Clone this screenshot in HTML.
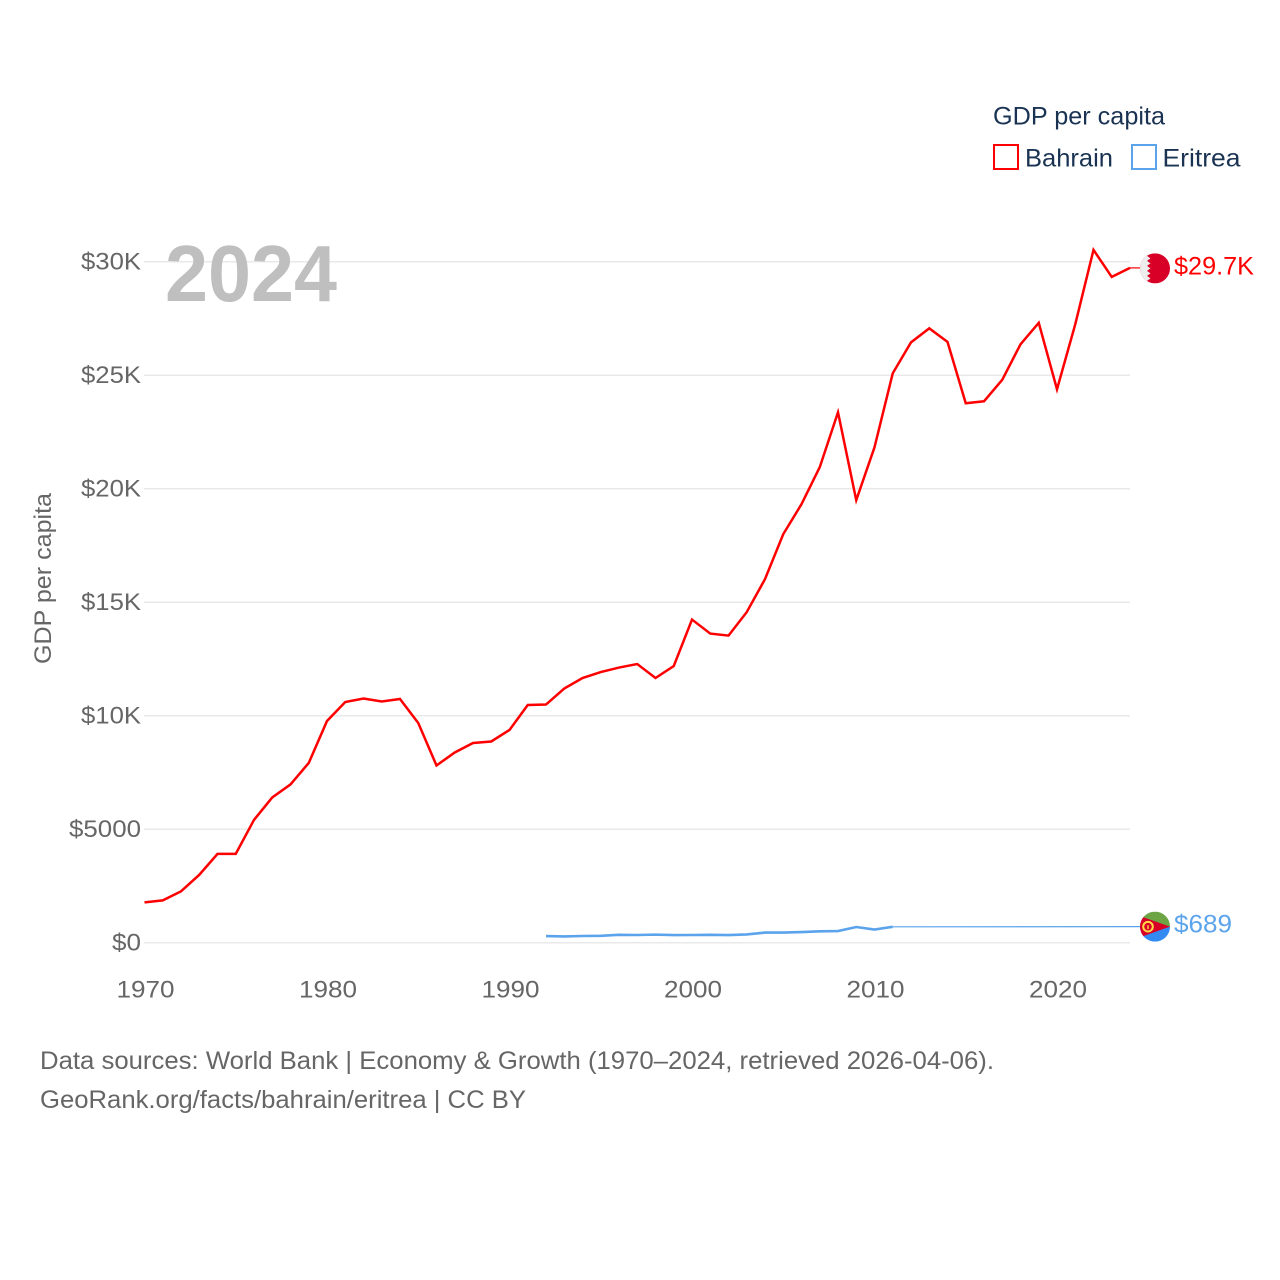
<!DOCTYPE html>
<html lang="en">
<head>
<meta charset="utf-8">
<title>GDP per capita: Bahrain and Eritrea</title>
<style>
html,body{margin:0;padding:0;background:#fff;width:1280px;height:1280px;overflow:hidden}
svg{display:block;font-family:"Liberation Sans",sans-serif}
</style>
</head>
<body>
<svg id="chart" width="1280" height="1280" viewBox="0 0 1280 1280" xmlns="http://www.w3.org/2000/svg">
<rect width="1280" height="1280" fill="#fff"/>
<g id="grid"></g>
<g id="ylabels"></g>
<g id="xlabels"></g>
<text x="165" y="301" font-size="80" font-weight="700" fill="#bfbfbf" textLength="172" lengthAdjust="spacingAndGlyphs">2024</text>
<text transform="translate(51,664) rotate(-90)" font-size="24" fill="#666" textLength="171" lengthAdjust="spacingAndGlyphs">GDP per capita</text>
<g id="series"></g>
<g id="bahrain-end">
  <clipPath id="clip-bh"><circle cx="0" cy="0" r="15"/></clipPath>
  <g clip-path="url(#clip-bh)">
    <rect x="-15" y="-15" width="30" height="30" fill="#d80027"/>
    <polygon fill="#eeeeee" points="-15,-15 -4,-15 -8,-12.5 -4.5,-10 -8,-7.5 -4.5,-5 -8,-2.5 -4.5,0 -8,2.5 -4.5,5 -8,7.5 -4.5,10 -8,12.5 -4,15 -15,15"/>
  </g>
  <text x="19" y="6" font-size="25" fill="#ff0000" textLength="80" lengthAdjust="spacingAndGlyphs">$29.7K</text>
</g>
<g id="eritrea-end">
  <clipPath id="clip-er"><circle cx="0" cy="0" r="15"/></clipPath>
  <g clip-path="url(#clip-er)">
    <rect x="-15" y="-15" width="30" height="15" fill="#6da544"/>
    <rect x="-15" y="0" width="30" height="15" fill="#338af3"/>
    <polygon fill="#d80027" points="-16,-11 15,0 -16,11"/>
    <circle cx="-7" cy="0" r="4.8" fill="none" stroke="#ffda44" stroke-width="2"/>
    <rect x="-7.7" y="-1.5" width="1.4" height="4" fill="#ffda44"/>
  </g>
  <text x="19" y="6" font-size="25" fill="#5ba4ec" textLength="58" lengthAdjust="spacingAndGlyphs">$689</text>
</g>
<g>
  <text x="993" y="124.5" font-size="25" fill="#1a3353" textLength="172" lengthAdjust="spacingAndGlyphs">GDP per capita</text>
  <rect x="994" y="145" width="24" height="24" fill="#fff" stroke="#ff0000" stroke-width="2"/>
  <text x="1025" y="166.5" font-size="25" fill="#1a3353" textLength="88" lengthAdjust="spacingAndGlyphs">Bahrain</text>
  <rect x="1132" y="145" width="24" height="24" fill="#fff" stroke="#5ba4ec" stroke-width="2"/>
  <text x="1162.5" y="166.5" font-size="25" fill="#1a3353" textLength="78" lengthAdjust="spacingAndGlyphs">Eritrea</text>
</g>
<text x="40" y="1069" font-size="25" fill="#666" textLength="954" lengthAdjust="spacingAndGlyphs">Data sources: World Bank | Economy &amp; Growth (1970–2024, retrieved 2026-04-06).</text>
<text x="40" y="1108" font-size="25" fill="#666" textLength="486" lengthAdjust="spacingAndGlyphs">GeoRank.org/facts/bahrain/eritrea | CC BY</text>
</svg>
<script>
const bahrainStartYear = 1970;
const bahrainValues = [1782,1870,2267,2993,3917,3917,5414,6404,6976,7922,9771,10607,10762,10630,10740,9683,7812,8385,8803,8869,9375,10475,10497,11200,11664,11928,12126,12280,11664,12192,14239,13622,13534,14569,16021,18002,19322,20951,23371,19498,21831,25088,26452,27069,26474,23768,23856,24802,26364,27311,24384,27245,30524,29335,29731];
const eritreaStartYear = 1992;
const eritreaValues = [295,282,300,308,352,343,360,339,343,352,339,370,449,449,475,506,519,695,585,705];
const eritreaLatest = 689;
const latestYear = 2024;
const yTickValues = [0,5000,10000,15000,20000,25000,30000];
const yTickLabels = ["$0","$5000","$10K","$15K","$20K","$25K","$30K"];
const yTickWidths = [29,72,60,60,60,60,60];
const xTickYears = [1970,1980,1990,2000,2010,2020];

const NS = "http://www.w3.org/2000/svg";
function xScale(year){ return 144.5 + (year - 1970) * 18.25; }
function yScale(v){ return 942.8 - v * 0.0227; }
function make(tag, attrs, parent){
  const el = document.createElementNS(NS, tag);
  for (const k in attrs) el.setAttribute(k, attrs[k]);
  parent.appendChild(el);
  return el;
}
const grid = document.getElementById("grid");
const ylabels = document.getElementById("ylabels");
const xlabels = document.getElementById("xlabels");
const series = document.getElementById("series");

yTickValues.forEach(function(v, i){
  const line = make("line", {x1:144, x2:1130, y1:yScale(v), y2:yScale(v), stroke:"#e9e9e9", "stroke-width":1.5}, grid);
  
  
  const t = make("text", {x:141, y:yScale(v)+7.7, "text-anchor":"end", "font-size":24.5, fill:"#666", textLength:yTickWidths[i], lengthAdjust:"spacingAndGlyphs"}, ylabels);
  t.textContent = yTickLabels[i];
  
  
});
xTickYears.forEach(function(year){
  const t = make("text", {x:xScale(year)+1, y:997.5, "text-anchor":"middle", "font-size":24.5, fill:"#666", textLength:58, lengthAdjust:"spacingAndGlyphs"}, xlabels);
  t.textContent = String(year);
  
  
});

function pointsFor(values, startYear){
  return values.map(function(v, i){ return xScale(startYear + i).toFixed(2) + "," + yScale(v).toFixed(2); }).join(" ");
}
const bahrainLast = bahrainValues[bahrainValues.length - 1];
const bahrainYears = bahrainValues.length - 1 + bahrainStartYear;
const markerX = 1155;

const bhLine = make("polyline", {points:pointsFor(bahrainValues, bahrainStartYear), fill:"none", stroke:"#ff0000", "stroke-width":2.5, "stroke-linejoin":"miter"}, series);



const bhLead = make("line", {x1:xScale(bahrainYears), y1:yScale(bahrainLast), x2:markerX-15, y2:yScale(bahrainLast), stroke:"#ff0000", "stroke-width":1.2}, series);



const erLine = make("polyline", {points:pointsFor(eritreaValues, eritreaStartYear), fill:"none", stroke:"#5ba4ec", "stroke-width":2.6}, series);



const erLastYear = eritreaStartYear + eritreaValues.length - 1;
const erGap = make("polyline", {points:[xScale(erLastYear)+","+yScale(eritreaValues[eritreaValues.length-1]), (markerX-15)+","+(yScale(eritreaLatest)-0.5)].join(" "), fill:"none", stroke:"#5ba4ec", "stroke-width":1.2}, series);



document.getElementById("bahrain-end").setAttribute("transform", "translate(" + markerX + "," + (yScale(bahrainLast)+0.5) + ")");
document.getElementById("eritrea-end").setAttribute("transform", "translate(" + markerX + "," + (yScale(eritreaLatest)-0.5) + ")");
</script>
</body>
</html>
